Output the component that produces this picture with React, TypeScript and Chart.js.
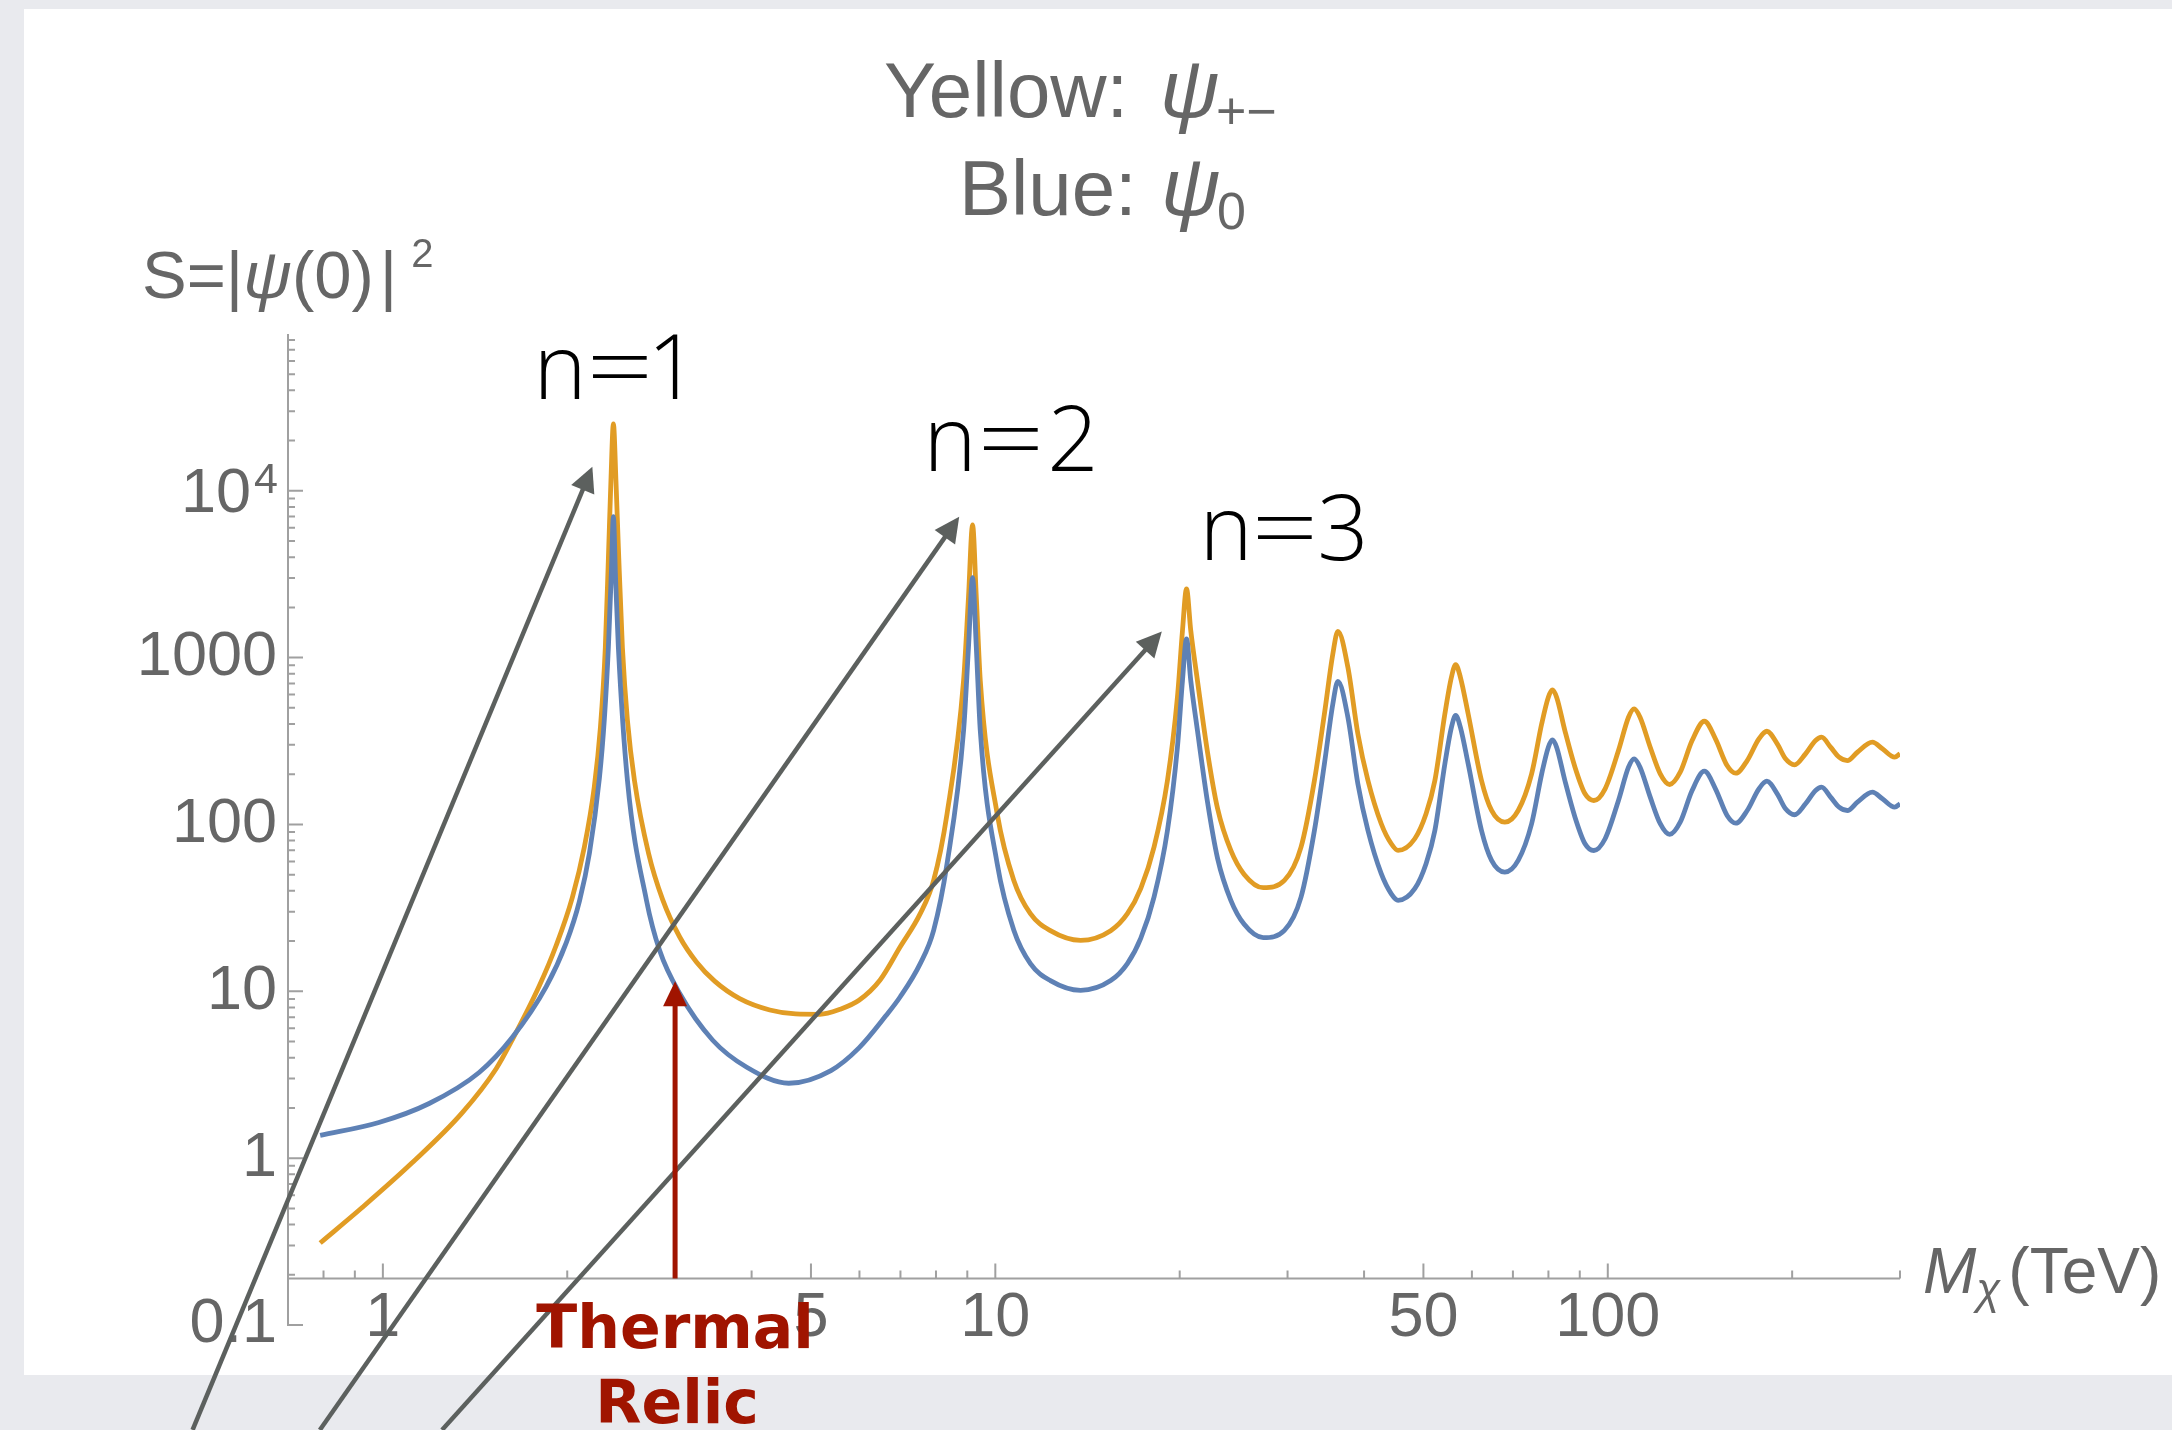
import React, { useEffect, useRef } from "react";
import { Chart, registerables } from "chart.js";

Chart.register(...registerables);

// ---------------- data ----------------
// Yellow curve: S for psi_{+-}
const yellowMass = [
  0.79, 0.924, 1.116, 1.347, 1.531, 1.626, 1.8, 1.919, 2.039, 2.133,
  2.214, 2.266, 2.308, 2.335, 2.357, 2.379, 2.402, 2.424, 2.461, 2.508,
  2.575, 2.715, 2.862, 3.051, 3.253, 3.481, 3.825, 4.283, 4.72, 5.172,
  5.576, 5.99, 6.48, 6.99, 7.54, 7.93, 8.34, 8.875, 9.04, 9.18, 9.31,
  9.45, 10.07, 10.72, 11.41, 12.3, 13.78, 15.43, 16.43, 17.28, 18.16,
  19.1, 19.83, 20.21, 20.52, 20.85, 21.38, 22.21, 23.06, 24.24, 25.49,
  27.38, 29.65, 31.56, 33.19, 34.46, 35.57, 36.25, 37.64, 39.08, 40.59,
  42.67, 44.31, 45.45, 48.4, 50.5, 52.2, 54.2, 55.55, 56.45, 57.46,
  59.16, 62.2, 64.6, 67.9, 71.4, 75.1, 78.0, 79.97, 81.2, 82.5,
  85.1, 88.4, 91.8, 94.9, 99.0, 104.1, 108.1, 110.4, 112.9, 117.3,
  121.8, 126.2, 131.3, 137.3, 143.8, 149.9, 156.6, 161.8, 168.9, 176.5,
  181.9, 189.1, 195.1, 201.8, 210.3, 218.4, 223.4, 231.1, 238.6, 246.1,
  255.6, 270.4, 280.8, 294.1, 300,
];
const yellowS = [
  0.31, 0.504, 0.937, 1.867, 3.435, 5.11, 10.76, 18.88, 36.6, 73.3,
  167.7, 383.6, 1156, 3998, 11480, 25180, 11480, 4560, 1148, 419.5,
  183.4, 67.2, 35.56, 21.23, 14.94, 11.51, 9.04, 7.73, 7.32, 7.28,
  7.8, 8.83, 11.64, 18.42, 29.2, 46.2, 115.9, 728.5, 2297, 6232, 2297,
  728.5, 115.9, 46.2, 29.2, 23.09, 20.2, 23.09, 29.2, 41.4, 73.1,
  183.4, 578.6, 1451, 2579, 1451, 728.5, 269.9, 124.7, 69.9, 50.2,
  41.8, 46.2, 73.1, 183.4, 460, 1052, 1437, 874.9, 349.2, 183.4,
  101, 76.6, 69.9, 82.1, 115.9, 183.4, 460, 762, 908, 762,
  460, 183.4, 121.3, 103.2, 121.3, 201.2, 401, 579, 641, 579,
  365.5, 220.4, 152.6, 139.2, 163.6, 277.4, 439.3, 492.7, 439.3, 290.4,
  201.2, 173.6, 205.7, 318.4, 415.6, 326, 225.6, 202.9, 241.6, 326,
  361.9, 304.2, 247.4, 227.8, 265.1, 318.4, 333.3, 290.4, 253, 241.6,
  271, 311.2, 283.9, 253, 265,
];

// Blue curve: S for psi_0
const blueMass = [
  0.79, 0.985, 1.19, 1.436, 1.626, 1.848, 1.993, 2.094, 2.174, 2.257,
  2.3, 2.335, 2.361, 2.379, 2.398, 2.424, 2.508, 2.694, 2.83, 3.051,
  3.456, 3.928, 4.6, 5.39, 5.99, 6.63, 6.99, 7.54, 7.93, 8.34,
  8.875, 9.04, 9.18, 9.31, 9.45, 10.07, 10.72, 11.41, 12.3, 13.78,
  15.43, 16.43, 17.28, 18.16, 19.1, 19.83, 20.21, 20.52, 20.85, 21.38,
  22.21, 23.06, 24.24, 25.49, 27.38, 29.65, 31.56, 33.19, 34.46, 35.57,
  36.25, 37.64, 39.08, 40.59, 42.67, 44.31, 45.45, 48.4, 50.5, 52.2,
  54.2, 55.55, 56.45, 57.46, 59.16, 62.2, 64.6, 67.9, 71.4, 75.1,
  78.0, 79.97, 81.2, 82.5, 85.1, 88.4, 91.8, 94.9, 99.0, 104.1,
  108.1, 110.4, 112.9, 117.3, 121.8, 126.2, 131.3, 137.3, 143.8, 149.9,
  156.6, 161.8, 168.9, 176.5, 181.9, 189.1, 195.1, 201.8, 210.3, 218.4,
  223.4, 231.1, 238.6, 246.1, 255.6, 270.4, 280.8, 294.1, 300,
];
const blueS = [
  1.369, 1.636, 2.126, 3.261, 5.283, 10.67, 19.57, 34.73, 67.3, 189.3,
  433, 1168, 3287, 6989, 3055, 1148, 183.4, 35.08, 17.6, 9.73,
  5.09, 3.507, 2.812, 3.35, 4.58, 7.15, 9.24, 14.65, 23.2, 58.2,
  365.5, 1152, 3013, 1152, 365.5, 58.2, 23.2, 14.65, 11.59, 10.14,
  11.59, 14.65, 20.8, 36.7, 92.0, 290.3, 728, 1294, 728, 365.5,
  135.4, 62.6, 35.1, 25.2, 20.97, 23.2, 36.7, 92.0, 230.8, 527.8,
  721, 439, 175.2, 92.0, 50.7, 38.4, 35.1, 41.2, 58.2, 92.0,
  230.8, 382, 450, 382, 230.8, 92.0, 60.9, 51.8, 60.9, 101,
  201, 290.5, 321.6, 290.5, 183.4, 110.6, 76.6, 69.8, 82.1, 139.2,
  220.4, 247.2, 220.4, 145.7, 101, 87.1, 103.2, 159.8, 208.5, 163.6,
  113.2, 101.8, 121.2, 163.6, 181.6, 152.6, 124.1, 114.3, 133, 159.8,
  167.2, 145.7, 126.9, 121.2, 136, 156.1, 142.4, 126.9, 133,
];

// axes
const xMin = 0.7;
const xMax = 300;
const yMin = 0.1;
const yMax = 87000;
const xAxisCrossing = 0.19;
const xTickValues = [0.8, 0.9, 1, 2, 3, 4, 5, 6, 7, 8, 9, 10, 20, 30, 40, 50, 60, 70, 80, 90, 100, 200, 300];
const xLabelledTicks = [1, 5, 10, 50, 100];
const yTickValues = [
  0.1, 0.2, 0.3, 0.4, 0.5, 0.6, 0.7, 0.8, 0.9,
  1, 2, 3, 4, 5, 6, 7, 8, 9,
  10, 20, 30, 40, 50, 60, 70, 80, 90,
  100, 200, 300, 400, 500, 600, 700, 800, 900,
  1000, 2000, 3000, 4000, 5000, 6000, 7000, 8000, 9000,
  10000, 20000, 30000, 40000, 50000, 60000, 70000, 80000,
];
const yLabelledTicks = [0.1, 1, 10, 100, 1000, 10000];

// annotations (data coordinates)
const thermalRelicMass = 3.0;
const thermalRelicTip = 11.5;
const resonanceDigits = ["1", "2", "3"];
const resonanceArrowFromMass = [0.489, 0.789, 1.249];
const resonanceArrowFromS = [0.0235, 0.0235, 0.0235];
const resonanceArrowToMass = [2.198, 8.73, 18.7];
const resonanceArrowToS = [13930, 6985, 1432];

// ---------------- styling ----------------
const YELLOW = "#E19C24";
const BLUE = "#5E81B5";
const AXIS = "#a0a0a0";
const TEXT = "#666666";
const ARROW_GRAY = "#5c605e";
const RED = "#a01400";
const SANS = '"Liberation Sans", Arial, sans-serif';
const THIN = '"Open Sans", "Lato", sans-serif';

type Seg = { t: string; f: string; ax?: number; dx?: number; dy?: number };
function drawSegs(ctx: CanvasRenderingContext2D, x: number, y: number, segs: Seg[]) {
  let cx = x;
  for (const s of segs) {
    ctx.font = s.f;
    if (s.ax !== undefined) cx = s.ax;
    cx += s.dx || 0;
    ctx.fillText(s.t, cx, y + (s.dy || 0));
    cx += ctx.measureText(s.t).width;
  }
}

function drawArrow(
  ctx: CanvasRenderingContext2D,
  x1: number, y1: number, x2: number, y2: number,
  headLen: number, headW: number, color: string, lw: number
) {
  const a = Math.atan2(y2 - y1, x2 - x1);
  const bx = x2 - headLen * Math.cos(a);
  const by = y2 - headLen * Math.sin(a);
  ctx.strokeStyle = color;
  ctx.lineWidth = lw;
  ctx.lineCap = "butt";
  ctx.beginPath();
  ctx.moveTo(x1, y1);
  ctx.lineTo(bx + Math.cos(a) * 2, by + Math.sin(a) * 2);
  ctx.stroke();
  ctx.fillStyle = color;
  ctx.beginPath();
  ctx.moveTo(x2, y2);
  ctx.lineTo(bx + (headW / 2) * Math.sin(a), by - (headW / 2) * Math.cos(a));
  ctx.lineTo(bx - (headW / 2) * Math.sin(a), by + (headW / 2) * Math.cos(a));
  ctx.closePath();
  ctx.fill();
}

const backgroundPlugin = {
  id: "slideBackground",
  beforeDraw(chart: any) {
    const { ctx, width, height } = chart;
    ctx.save();
    ctx.fillStyle = "#e9eaee";
    ctx.fillRect(0, 0, width, height);
    ctx.fillStyle = "#ffffff";
    ctx.fillRect(24, 9, width - 24, 1366);
    ctx.restore();
  },
};

const axesPlugin = {
  id: "mmaAxes",
  beforeDatasetsDraw(chart: any) {
    const { ctx, chartArea } = chart;
    const xs = chart.scales.x;
    const ys = chart.scales.y;
    const axisY = ys.getPixelForValue(xAxisCrossing);
    const left = chartArea.left;
    ctx.save();
    ctx.strokeStyle = AXIS;
    ctx.lineWidth = 2;
    ctx.beginPath();
    ctx.moveTo(left, axisY);
    ctx.lineTo(chartArea.right, axisY);
    ctx.moveTo(left, ys.getPixelForValue(yMin) + 1);
    ctx.lineTo(left, chartArea.top);
    ctx.stroke();
    ctx.beginPath();
    for (const v of xTickValues) {
      const px = xs.getPixelForValue(v);
      const len = xLabelledTicks.includes(v) ? 15 : 8;
      ctx.moveTo(px, axisY);
      ctx.lineTo(px, axisY - len);
    }
    for (const v of yTickValues) {
      const py = ys.getPixelForValue(v);
      const len = yLabelledTicks.includes(v) ? 15 : 7;
      ctx.moveTo(left, py);
      ctx.lineTo(left + len, py);
    }
    ctx.stroke();
    ctx.restore();
  },
};

const annotationPlugin = {
  id: "annotations",
  afterDraw(chart: any) {
    const { ctx } = chart;
    const xs = chart.scales.x;
    const ys = chart.scales.y;
    ctx.save();
    ctx.textAlign = "left";
    ctx.textBaseline = "alphabetic";

    // 10^4 tick label
    ctx.fillStyle = TEXT;
    const p4 = ys.getPixelForValue(10000);
    ctx.textAlign = "right";
    ctx.textBaseline = "middle";
    ctx.font = `63px ${SANS}`;
    ctx.fillText("10", 251, p4 + 4);
    ctx.textBaseline = "alphabetic";
    ctx.font = `43px ${SANS}`;
    ctx.fillText("4", 278, p4 + 2);
    ctx.textAlign = "left";

    // title
    drawSegs(ctx, 884, 117, [
      { t: "Yellow: ", f: `78px ${SANS}` },
      { t: "ψ", f: `italic 82px ${SANS}`, ax: 1160 },
      { t: "+−", f: `52px ${SANS}`, ax: 1216, dy: 12 },
    ]);
    drawSegs(ctx, 959, 215, [
      { t: "Blue: ", f: `78px ${SANS}` },
      { t: "ψ", f: `italic 82px ${SANS}`, ax: 1161 },
      { t: "0", f: `52px ${SANS}`, ax: 1217, dy: 14 },
    ]);

    // y axis label
    drawSegs(ctx, 142, 298, [
      { t: "S=|", f: `67px ${SANS}` },
      { t: "ψ", f: `italic 67px ${SANS}` },
      { t: "(0)", f: `67px ${SANS}` },
      { t: "|", f: `67px ${SANS}`, dx: 6 },
      { t: "2", f: `40px ${SANS}`, dx: 14, dy: -31 },
    ]);

    // x axis label
    drawSegs(ctx, 1923, 1293, [
      { t: "M", f: `italic 64px ${SANS}` },
      { t: "χ", f: `italic 44px ${SANS}`, dx: 0, dy: 11 },
      { t: "(TeV)", f: `64px ${SANS}`, dx: 8 },
    ]);

    // resonance labels n=1, n=2, n=3 (glyph centres and baselines)
    ctx.fillStyle = "#000000";
    ctx.textAlign = "center";
    const nCentre = [560, 950, 1226];
    const eqCentre = [620, 1011, 1285];
    const digitCentre = [673, 1073, 1343];
    const baselines = [399, 471, 560];
    resonanceDigits.forEach((d, i) => {
      ctx.font = `300 90px ${THIN}`;
      ctx.fillText("n", nCentre[i], baselines[i]);
      ctx.fillText(d, digitCentre[i], baselines[i]);
      ctx.save();
      ctx.translate(eqCentre[i], baselines[i]);
      ctx.scale(1.3, 1);
      ctx.fillText("=", 0, 0);
      ctx.restore();
    });
    ctx.textAlign = "left";

    // gray arrows
    for (let i = 0; i < resonanceArrowFromMass.length; i++) {
      drawArrow(
        ctx,
        xs.getPixelForValue(resonanceArrowFromMass[i]),
        ys.getPixelForValue(resonanceArrowFromS[i]),
        xs.getPixelForValue(resonanceArrowToMass[i]),
        ys.getPixelForValue(resonanceArrowToS[i]),
        25, 25, ARROW_GRAY, 4.5
      );
    }

    // thermal relic arrow
    const rx = xs.getPixelForValue(thermalRelicMass);
    drawArrow(ctx, rx, ys.getPixelForValue(xAxisCrossing), rx, ys.getPixelForValue(thermalRelicTip), 25, 24, RED, 5);
    ctx.fillStyle = RED;
    ctx.textAlign = "center";
    ctx.font = `bold 60px "DejaVu Sans", sans-serif`;
    ctx.fillText("Thermal", rx, 1348);
    ctx.fillText("Relic", rx + 2, 1423);

    ctx.restore();
  },
};

export default function App() {
  const ref = useRef<HTMLCanvasElement>(null);

  useEffect(() => {
    document.body.style.margin = "0";
    const canvas = ref.current;
    if (!canvas) return;

    const chart = new Chart(canvas, {
      type: "line",
      data: {
        datasets: [
          {
            label: "psi0",
            data: blueMass.map((m, i) => ({ x: m, y: blueS[i] })),
            borderColor: BLUE,
            borderWidth: 4.8,
            pointRadius: 0,
            fill: false,
            cubicInterpolationMode: "monotone",
          },
          {
            label: "psi+-",
            data: yellowMass.map((m, i) => ({ x: m, y: yellowS[i] })),
            borderColor: YELLOW,
            borderWidth: 4.8,
            pointRadius: 0,
            fill: false,
            cubicInterpolationMode: "monotone",
          },
        ],
      },
      options: {
        animation: false,
        responsive: false,
        devicePixelRatio: 1,
        events: [],
        layout: { padding: { left: 0, right: 272, top: 334, bottom: 105 } },
        plugins: {
          legend: { display: false },
          tooltip: { enabled: false },
          title: { display: false },
        },
        scales: {
          x: {
            type: "logarithmic",
            min: xMin,
            max: xMax,
            position: { y: xAxisCrossing } as any,
            grid: { display: false, drawTicks: false },
            border: { display: false },
            afterBuildTicks: (s: any) => {
              s.ticks = xTickValues.map((v) => ({ value: v }));
            },
            ticks: {
              autoSkip: false,
              maxRotation: 0,
              minRotation: 0,
              padding: 2,
              color: TEXT,
              font: { family: SANS, size: 63 },
              callback: (v: any) => (xLabelledTicks.includes(Number(v)) ? String(v) : ""),
            },
          },
          y: {
            type: "logarithmic",
            min: yMin,
            max: yMax,
            position: "left",
            grid: { display: false, drawTicks: false },
            border: { display: false },
            afterFit: (s: any) => {
              s.width = 288;
            },
            afterBuildTicks: (s: any) => {
              s.ticks = yTickValues.map((v) => ({ value: v }));
            },
            ticks: {
              autoSkip: false,
              padding: 11,
              color: TEXT,
              font: { family: SANS, size: 63 },
              callback: (v: any) => {
                const n = Number(v);
                if (n === 10000) return "";
                return yLabelledTicks.includes(n) ? String(n) : "";
              },
            },
          },
        },
      },
      plugins: [backgroundPlugin, axesPlugin, annotationPlugin],
    } as any);

    return () => chart.destroy();
  }, []);

  return (
    <div style={{ position: "absolute", left: 0, top: 0, width: 2172, height: 1430 }}>
      <canvas ref={ref} width={2172} height={1430} style={{ display: "block", width: 2172, height: 1430 }} />
    </div>
  );
}
